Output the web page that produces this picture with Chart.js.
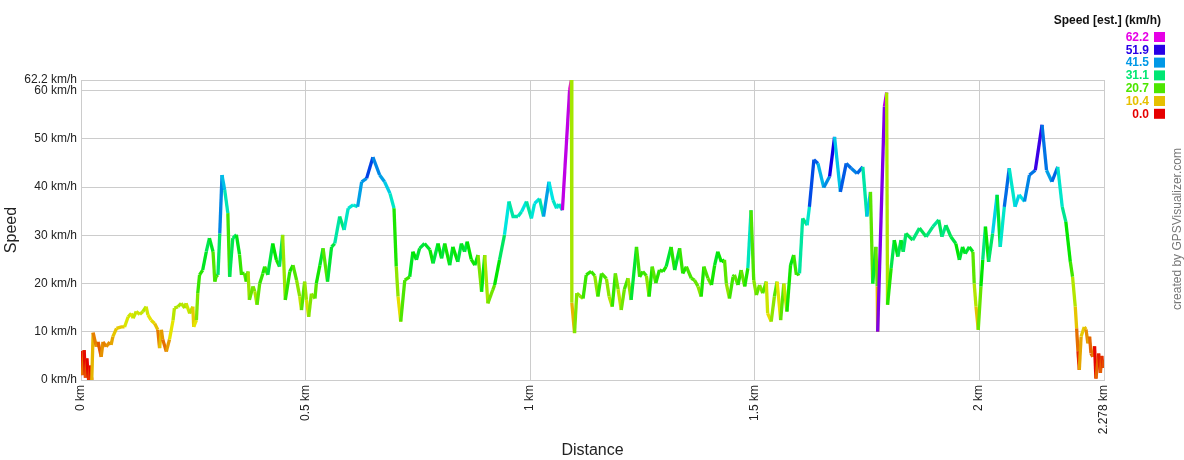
<!DOCTYPE html>
<html>
<head>
<meta charset="utf-8">
<script src="https://cdn.jsdelivr.net/npm/chart.js@4/dist/chart.umd.min.js"></script>
<style>
html,body{margin:0;padding:0;background:#fff;}
#wrap{width:1184px;height:460px;}
</style>
</head>
<body>
<div id="wrap"><canvas id="c" width="1184" height="460"></canvas></div>
<script>
const distanceKm = [
0.000,0.003,0.007,0.010,0.013,0.017,0.020,0.024,0.027,0.034,
0.038,0.045,0.049,0.056,0.064,0.067,0.071,0.079,0.090,0.097,
0.105,0.112,0.116,0.123,0.131,0.138,0.145,0.149,0.156,0.164,
0.171,0.175,0.179,0.182,0.190,0.197,0.205,0.208,0.216,0.223,
0.231,0.234,0.242,0.249,0.251,0.257,0.260,0.264,0.271,0.279,
0.286,0.294,0.298,0.301,0.305,0.309,0.314,0.320,0.327,0.331,
0.338,0.346,0.353,0.357,0.364,0.368,0.372,0.375,0.383,0.387,
0.392,0.398,0.405,0.409,0.416,0.427,0.435,0.442,0.449,0.455,
0.465,0.472,0.480,0.487,0.491,0.498,0.502,0.507,0.513,0.521,
0.524,0.532,0.539,0.549,0.558,0.565,0.576,0.586,0.595,0.606,
0.616,0.625,0.636,0.650,0.665,0.676,0.688,0.697,0.702,0.706,
0.712,0.721,0.732,0.739,0.747,0.754,0.765,0.777,0.784,0.795,
0.803,0.810,0.821,0.828,0.839,0.847,0.854,0.860,0.869,0.877,
0.884,0.892,0.899,0.906,0.917,0.921,0.932,0.943,0.953,0.962,
0.973,0.981,0.992,1.003,1.010,1.021,1.030,1.042,1.051,1.059,
1.064,1.072,1.088,1.092,1.093,1.099,1.104,
1.110,1.118,1.125,1.136,1.144,1.151,1.159,1.170,1.176,1.183,
1.190,1.196,1.203,1.210,1.218,1.225,1.237,1.244,1.251,1.259,
1.265,1.272,1.280,1.288,1.296,1.303,1.314,1.322,1.333,1.340,
1.348,1.359,1.366,1.374,1.381,1.387,1.396,1.404,1.411,1.418,
1.426,1.433,1.437,1.444,1.452,1.455,1.463,1.470,1.478,1.485,
1.492,1.498,1.504,1.511,1.518,1.526,1.529,1.537,1.544,1.550,
1.558,1.565,1.572,1.580,1.587,1.593,1.600,1.607,1.617,1.622,
1.632,1.641,1.654,1.667,1.678,1.691,1.704,1.715,1.728,1.741,
1.750,1.758,1.763,1.770,1.773,1.774,1.789,1.794,
1.796,1.804,1.811,1.819,1.826,1.831,1.837,1.852,1.867,1.882,
1.897,1.910,1.917,1.926,1.937,1.948,1.956,1.963,1.969,1.978,
1.986,1.989,1.993,1.998,2.004,2.008,2.014,2.021,2.030,2.040,
2.047,2.056,2.067,2.080,2.089,2.101,2.112,2.125,2.140,2.150,
2.162,2.175,2.185,2.193,2.203,2.208,2.214,2.217,2.220,2.223,
2.227,2.234,2.238,2.242,2.246,2.249,2.253,2.257,2.260,2.266,
2.270,2.273,2.276,2.278
];
const speedKmh = [
6.0,1.0,6.2,0.5,4.5,0.0,3.0,0.0,9.8,6.9,
7.9,4.8,7.9,6.9,7.9,7.3,9.0,10.7,11.0,11.0,
13.1,13.8,12.8,14.2,13.6,14.2,15.2,13.5,12.4,11.7,
10.4,6.6,10.4,8.4,5.9,8.4,12.4,14.9,15.2,15.9,
14.9,15.9,13.8,15.2,11.0,12.4,18.0,21.8,22.8,26.6,
29.4,26.6,20.4,21.5,21.8,30.4,42.5,39.4,34.6,21.4,
29.4,30.1,26.0,22.1,22.1,20.4,22.5,16.6,19.4,18.4,
15.6,20.0,22.1,23.5,21.8,28.3,24.9,23.5,30.1,16.6,
22.5,23.8,20.7,17.3,14.5,20.4,16.6,13.1,17.9,16.9,
20.0,23.8,27.3,20.4,27.6,28.3,33.9,31.1,35.6,36.3,
35.9,41.1,41.8,46.2,42.5,41.1,38.7,35.6,23.5,17.3,
12.1,20.7,21.4,26.6,24.9,27.3,28.3,27.0,24.2,28.3,
25.2,28.3,23.8,27.6,24.5,28.3,26.6,28.7,25.0,23.8,
25.9,18.3,25.9,15.9,18.7,19.7,24.9,30.1,37.0,33.9,
33.9,34.9,37.0,33.5,36.6,37.6,33.9,41.1,37.3,35.6,
36.5,35.2,60.1,62.2,16.0,9.7,18.0,
17.5,16.9,21.8,22.5,21.6,17.3,22.1,21.0,17.3,15.2,
22.1,18.8,14.5,18.8,21.1,16.6,27.6,21.4,22.5,21.6,
17.3,23.5,20.1,22.8,22.5,23.5,27.6,22.8,27.3,22.1,
23.5,21.1,20.7,19.4,17.3,23.5,21.1,19.7,23.8,26.6,
24.5,24.9,20.0,16.9,21.4,21.8,19.7,22.8,19.4,23.2,
35.2,20.7,17.6,19.7,18.0,20.4,13.8,12.1,17.3,20.4,
12.4,20.0,14.2,23.8,25.9,21.8,22.1,33.5,32.1,35.9,
45.7,44.9,39.9,42.2,50.4,39.0,44.9,43.9,42.8,44.2,
33.9,39.0,20.0,27.6,19.4,10.0,56.7,59.6,
15.6,23.2,29.0,25.6,29.0,26.6,30.4,29.0,31.5,29.7,
31.8,33.2,29.7,32.1,29.7,28.3,24.9,27.6,26.2,27.6,
26.6,20.0,15.2,10.4,19.4,24.9,31.8,24.5,30.4,38.4,
27.6,35.9,43.9,35.9,38.4,37.0,42.5,43.5,52.9,43.5,
41.1,44.2,35.9,32.8,24.5,21.4,15.2,10.7,6.0,2.1,
9.0,11.0,10.5,7.6,9.0,5.5,4.8,7.0,0.3,5.5,
1.5,5.0,2.5,4.1
];
const yTickValues = [0,10,20,30,40,50,60,62.2];
const xTickValues = [0,0.5,1,1.5,2,2.278];
const legendValues = [62.2,51.9,41.5,31.1,20.7,10.4,0.0];
const speedMax = 62.2;

function speedColor(v){
  const t = Math.max(0, Math.min(1, v / speedMax));
  const hue = t * 300;
  return 'hsl(' + hue.toFixed(1) + ',100%,45%)';
}

const FONT = "'Liberation Sans', Arial, sans-serif";

const sidePlugin = {
  id: 'side',
  afterDraw(chart){
    const ctx = chart.ctx;
    ctx.save();
    ctx.font = 'bold 12px ' + FONT;
    ctx.fillStyle = '#111';
    ctx.textAlign = 'right';
    ctx.textBaseline = 'middle';
    ctx.fillText('Speed [est.] (km/h)', 1161, 21);
    legendValues.forEach((v, i) => {
      const y = 37 + i * 12.8;
      const col = speedColor(v);
      ctx.fillStyle = col;
      ctx.font = 'bold 12px ' + FONT;
      ctx.fillText(v.toFixed(1), 1149, y + 0.5);
      ctx.fillRect(1154, y - 5, 11, 10);
    });
    ctx.translate(1178, 229);
    ctx.rotate(-Math.PI / 2);
    ctx.textAlign = 'center';
    ctx.fillStyle = '#777';
    ctx.font = '12px ' + FONT;
    ctx.fillText('created by GPSVisualizer.com', 0, 0);
    ctx.restore();
  }
};

new Chart(document.getElementById('c'), {
  type: 'line',
  data: {
    datasets: [{
      data: distanceKm.map((d, i) => ({x: d, y: speedKmh[i]})),
      borderWidth: 3.3,
      pointRadius: 0,
      tension: 0,
      fill: false,
      borderColor: '#40e000',
      borderCapStyle: 'butt',
      borderJoinStyle: 'miter',
      segment: {
        borderColor: c => speedColor(c.p1.parsed.y)
      }
    }]
  },
  options: {
    responsive: false,
    animation: false,
    devicePixelRatio: 1,
    layout: {padding: {top: 80, right: 80, left: 0, bottom: 0}},
    plugins: {legend: {display: false}, tooltip: {enabled: false}},
    scales: {
      x: {
        type: 'linear',
        min: 0,
        max: 2.278,
        afterBuildTicks: s => { s.ticks = xTickValues.map(v => ({value: v})); },
        afterFit: s => { s.height = 80; },
        ticks: {
          autoSkip: false,
          maxRotation: 90,
          minRotation: 90,
          padding: 5,
          color: '#222',
          font: {family: FONT, size: 12},
          callback: v => v + ' km'
        },
        grid: {color: '#cccccc', drawTicks: false, lineWidth: 1},
        border: {color: '#cccccc'},
        title: {display: true, text: 'Distance', color: '#222', font: {family: FONT, size: 16}, padding: {top: 0, bottom: 0}}
      },
      y: {
        min: 0,
        max: 62.2,
        afterBuildTicks: s => { s.ticks = yTickValues.map(v => ({value: v})); },
        afterFit: s => { s.width = 81; },
        ticks: {
          autoSkip: false,
          padding: 4,
          color: '#222',
          font: {family: FONT, size: 12},
          callback: v => v + ' km/h'
        },
        grid: {color: '#cccccc', drawTicks: false, lineWidth: 1},
        border: {color: '#cccccc'},
        title: {display: true, text: 'Speed', color: '#222', font: {family: FONT, size: 16}, padding: {top: 2, bottom: 0}}
      }
    }
  },
  plugins: [sidePlugin]
});
</script>
</body>
</html>
